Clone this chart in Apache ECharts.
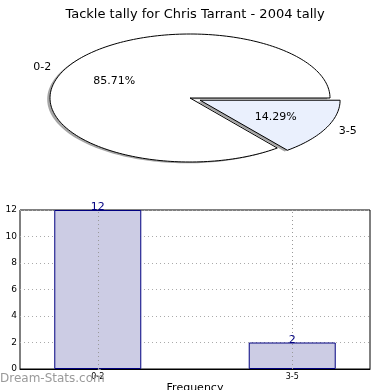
<!DOCTYPE html>
<html><head><meta charset="utf-8">
<script src="https://cdn.jsdelivr.net/npm/echarts@6/dist/echarts.min.js"></script>
<style>html,body{margin:0;padding:0;background:#fff}#c{width:390px;height:390px}</style>
</head><body><div id="c"></div>
<script>
// ---- data ----
const categories = ['0-2', '3-5'];
const counts = [12, 2];
const pieColors = ['#ffffff', '#eaf0fd'];
const explode = [0, 0.08];
const yTickValues = [0, 2, 4, 6, 8, 10, 12];
const titleText = 'Tackle tally for Chris Tarrant - 2004 tally';

// ---- layout ----
const FONT = 'DejaVu Sans, sans-serif';
const PIE = { cx: 190, cy: 98, rx: 140, ry: 64, shx: -2.8, shy: 1.3 };
const total = counts.reduce((a, b) => a + b, 0);

function wedgePoints(cx, cy, a0, a1) {
  const pts = [[cx, cy]];
  const n = Math.max(4, Math.ceil((a1 - a0) / 1.5));
  for (let k = 0; k <= n; k++) {
    const t = (a0 + (a1 - a0) * k / n) * Math.PI / 180;
    pts.push([cx + PIE.rx * Math.cos(t), cy - PIE.ry * Math.sin(t)]);
  }
  return pts;
}

function renderPie(params, api) {
  const i = params.dataIndex;
  let before = 0;
  for (let k = 0; k < i; k++) before += counts[k];
  const a0 = before / total * 360;
  const a1 = (before + counts[i]) / total * 360;
  const mid = (a0 + a1) / 2 * Math.PI / 180;
  const cx = PIE.cx + explode[i] * PIE.rx * Math.cos(mid);
  const cy = PIE.cy - explode[i] * PIE.ry * Math.sin(mid);
  const pts = wedgePoints(cx, cy, a0, a1);
  const shadowPts = pts.map(p => [p[0] + PIE.shx, p[1] + PIE.shy]);
  const cosm = Math.cos(mid), sinm = Math.sin(mid);
  const lx = cx + 1.1 * PIE.rx * cosm, ly = cy - 1.1 * PIE.ry * sinm;
  const px = cx + 0.6 * PIE.rx * cosm, py = cy - 0.6 * PIE.ry * sinm;
  const pct = (counts[i] / total * 100).toFixed(2) + '%';
  return {
    type: 'group',
    children: [
      { type: 'polygon', shape: { points: shadowPts }, style: { fill: 'rgba(77,77,77,0.5)', stroke: null } },
      { type: 'polygon', shape: { points: pts }, style: { fill: pieColors[i], stroke: '#000', lineWidth: 1 } },
      { type: 'text', style: { text: categories[i], x: lx, y: ly, align: cosm < 0 ? 'right' : 'left', verticalAlign: 'middle', font: '11px ' + FONT, fill: '#000' } },
      { type: 'text', style: { text: pct, x: px, y: py, align: 'center', verticalAlign: 'middle', font: '11px ' + FONT, fill: '#000' } }
    ]
  };
}

const chart = echarts.init(document.getElementById('c'), null, { renderer: 'canvas' });
chart.setOption({
  animation: false,
  backgroundColor: '#fff',
  title: {
    text: titleText, left: 'center', top: 3,
    textStyle: { fontFamily: FONT, fontSize: 13, fontWeight: 'normal', color: '#000' }
  },
  grid: { left: 20, right: 20, top: 210, bottom: 21, containLabel: false, outerBoundsMode: 'none',
    show: true, borderColor: '#000', borderWidth: 1, backgroundColor: 'transparent' },
  xAxis: {
    type: 'value', min: -0.4, max: 1.4,
    name: 'Frequency', nameLocation: 'middle', nameGap: 14,
    nameTextStyle: { fontFamily: FONT, fontSize: 11, color: '#000' },
    axisLine: { show: true, lineStyle: { color: '#000' } },
    axisTick: { show: true, inside: true, length: 3, customValues: [0, 1], lineStyle: { color: '#888' } },
    axisLabel: { customValues: [0, 1], margin: 4, fontFamily: FONT, fontSize: 8, color: '#000',
      formatter: v => categories[Math.round(v)] || '' },
    splitLine: { show: false }
  },
  yAxis: {
    type: 'value', min: 0, max: 12, interval: 2,
    name: 'Number of Games', nameLocation: 'middle', nameGap: 19,
    nameTextStyle: { fontFamily: FONT, fontSize: 10, color: '#000' },
    axisLine: { show: true, lineStyle: { color: '#000' } },
    axisTick: { show: true, inside: true, length: 3, lineStyle: { color: '#888' } },
    axisLabel: { margin: 3, fontFamily: FONT, fontSize: 9, color: '#000',
      formatter: v => yTickValues.indexOf(v) >= 0 ? String(v) : '' },
    splitLine: { show: true, lineStyle: { color: '#aaa', type: [1, 3], width: 1 } }
  },
  graphic: [{
    type: 'text', left: 0, top: 373, z: 100,
    style: { text: 'Dream-Stats.com', font: '12px ' + FONT, fill: '#9a9a9a' }
  }],
  series: [
    {
      type: 'bar',
      data: categories.map((c, i) => [i, counts[i]]),
      barWidth: 87,
      itemStyle: { color: '#ccccE4', borderColor: '#000080', borderWidth: 1 },
      label: { show: true, position: 'top', distance: -3, color: '#000080', fontFamily: FONT, fontSize: 11 },
      markLine: {
        silent: true, symbol: 'none', label: { show: false },
        lineStyle: { color: '#999', type: [1, 3], width: 1 },
        data: categories.map((c, i) => ({ xAxis: i }))
      },
      z: 1
    },
    {
      type: 'custom',
      coordinateSystem: 'none',
      data: categories.map((c, i) => [counts[i]]),
      renderItem: renderPie,
      silent: true
    }
  ]
});
</script>
</body></html>
